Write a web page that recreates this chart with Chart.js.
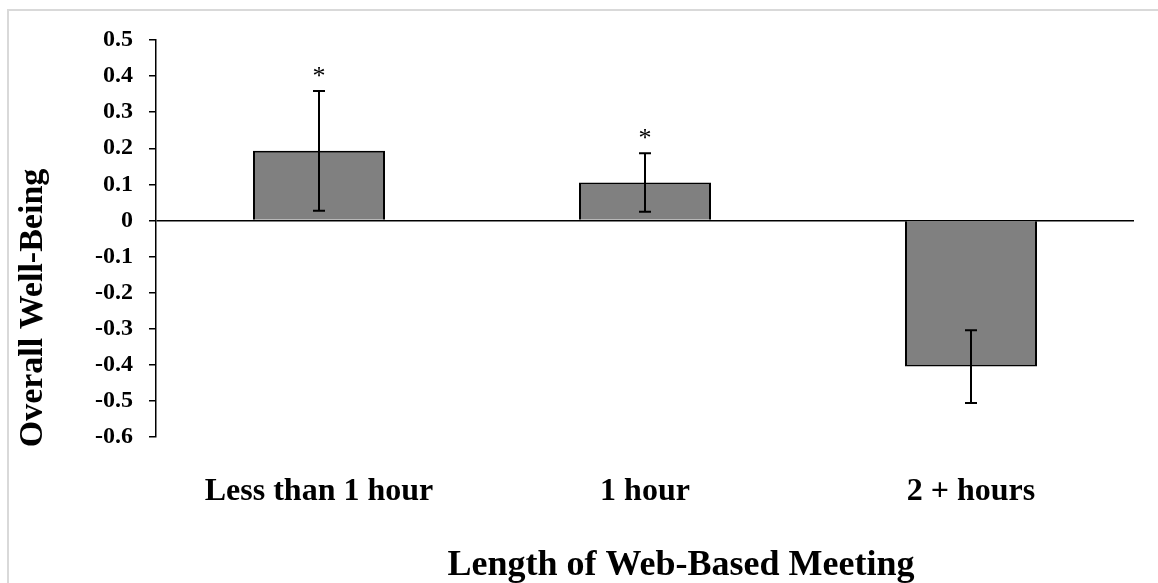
<!DOCTYPE html>
<html>
<head>
<meta charset="utf-8">
<script src="https://cdn.jsdelivr.net/npm/chart.js@4"></script>
<style>
  html, body { margin: 0; padding: 0; background: #fff; overflow: hidden; }
  #wrap { position: relative; width: 1158px; height: 583px; }
  #frame { position: absolute; left: 7px; top: 9px; width: 1200px; height: 700px; border: 2px solid #d9d9d9; }
  #chart { position: absolute; left: 0; top: 0; }
</style>
</head>
<body>
<div id="wrap">
  <div id="frame"></div>
  <canvas id="chart" width="1158" height="583"></canvas>
</div>
<script>
// dados
const categories = ['Less than 1 hour', '1 hour', '2 + hours'];
const means = [0.193, 0.105, -0.405];
const errors = [0.166, 0.081, 0.101];
const marks = ['*', '*', ''];
const yMin = -0.6;
const yMax = 0.5;
const yStep = 0.1;

const serif = '"Liberation Serif", "Times New Roman", serif';

// barras de erro e asteriscos
const errorBars = {
  id: 'errorBars',
  afterDatasetsDraw(chart) {
    const ctx = chart.ctx;
    const y = chart.scales.y;
    const meta = chart.getDatasetMeta(0);
    ctx.save();
    ctx.strokeStyle = '#000';
    ctx.lineWidth = 2;
    meta.data.forEach((bar, i) => {
      const top = y.getPixelForValue(means[i] + errors[i]);
      const bot = y.getPixelForValue(means[i] - errors[i]);
      const cap = 6;
      ctx.beginPath();
      ctx.moveTo(bar.x, top); ctx.lineTo(bar.x, bot);
      ctx.moveTo(bar.x - cap, top); ctx.lineTo(bar.x + cap, top);
      ctx.moveTo(bar.x - cap, bot); ctx.lineTo(bar.x + cap, bot);
      ctx.stroke();
      if (marks[i]) {
        ctx.fillStyle = '#000';
        ctx.font = '26px ' + serif;
        ctx.textAlign = 'center';
        ctx.textBaseline = 'bottom';
        ctx.fillText(marks[i], bar.x, top - 1);
      }
    });
    ctx.restore();
  }
};

// títulos dos eixos
const axisTitles = {
  id: 'axisTitles',
  afterDraw(chart) {
    const ctx = chart.ctx;
    ctx.save();
    ctx.fillStyle = '#000';
    ctx.font = 'bold 34px ' + serif;
    ctx.textAlign = 'center';
    ctx.textBaseline = 'alphabetic';
    ctx.translate(42, 308);
    ctx.rotate(-Math.PI / 2);
    ctx.fillText('Overall Well-Being', 0, 0);
    ctx.restore();
    ctx.save();
    ctx.fillStyle = '#000';
    ctx.font = 'bold 36px ' + serif;
    ctx.textAlign = 'center';
    ctx.textBaseline = 'alphabetic';
    ctx.fillText('Length of Web-Based Meeting', 681, 575);
    ctx.restore();
  }
};

const chart = new Chart(document.getElementById('chart'), {
  type: 'bar',
  data: {
    labels: categories,
    datasets: [{
      data: means,
      backgroundColor: '#808080',
      borderColor: '#000',
      borderWidth: 2,
      barPercentage: 0.405,
      categoryPercentage: 1
    }]
  },
  options: {
    responsive: false,
    animation: false,
    events: [],
    layout: { padding: { top: 40, right: 24, bottom: 0, left: 0 } },
    plugins: { legend: { display: false }, tooltip: { enabled: false } },
    scales: {
      x: {
        grid: { display: false },
        border: { display: false },
        ticks: {
          color: '#000',
          padding: 28,
          maxRotation: 0,
          font: { family: serif, size: 32, weight: 'bold' }
        },
        afterFit(s) { s.height = 146; }
      },
      y: {
        min: yMin,
        max: yMax,
        border: { display: true, color: '#000', width: 1.5 },
        grid: {
          drawOnChartArea: true,
          color: c => (c.tick && Math.abs(c.tick.value) < 1e-9) ? '#000' : 'rgba(0,0,0,0)',
          lineWidth: 1.5,
          tickColor: '#000',
          tickLength: 7
        },
        ticks: {
          stepSize: yStep,
          color: '#000',
          padding: 16,
          font: { family: serif, size: 24, weight: 'bold' },
          callback: v => {
            const r = Math.round(v * 10) / 10;
            return r === 0 ? '0' : r.toFixed(1);
          }
        },
        afterFit(s) { s.width = 156; }
      }
    }
  },
  plugins: [errorBars, axisTitles]
});
</script>
</body>
</html>
